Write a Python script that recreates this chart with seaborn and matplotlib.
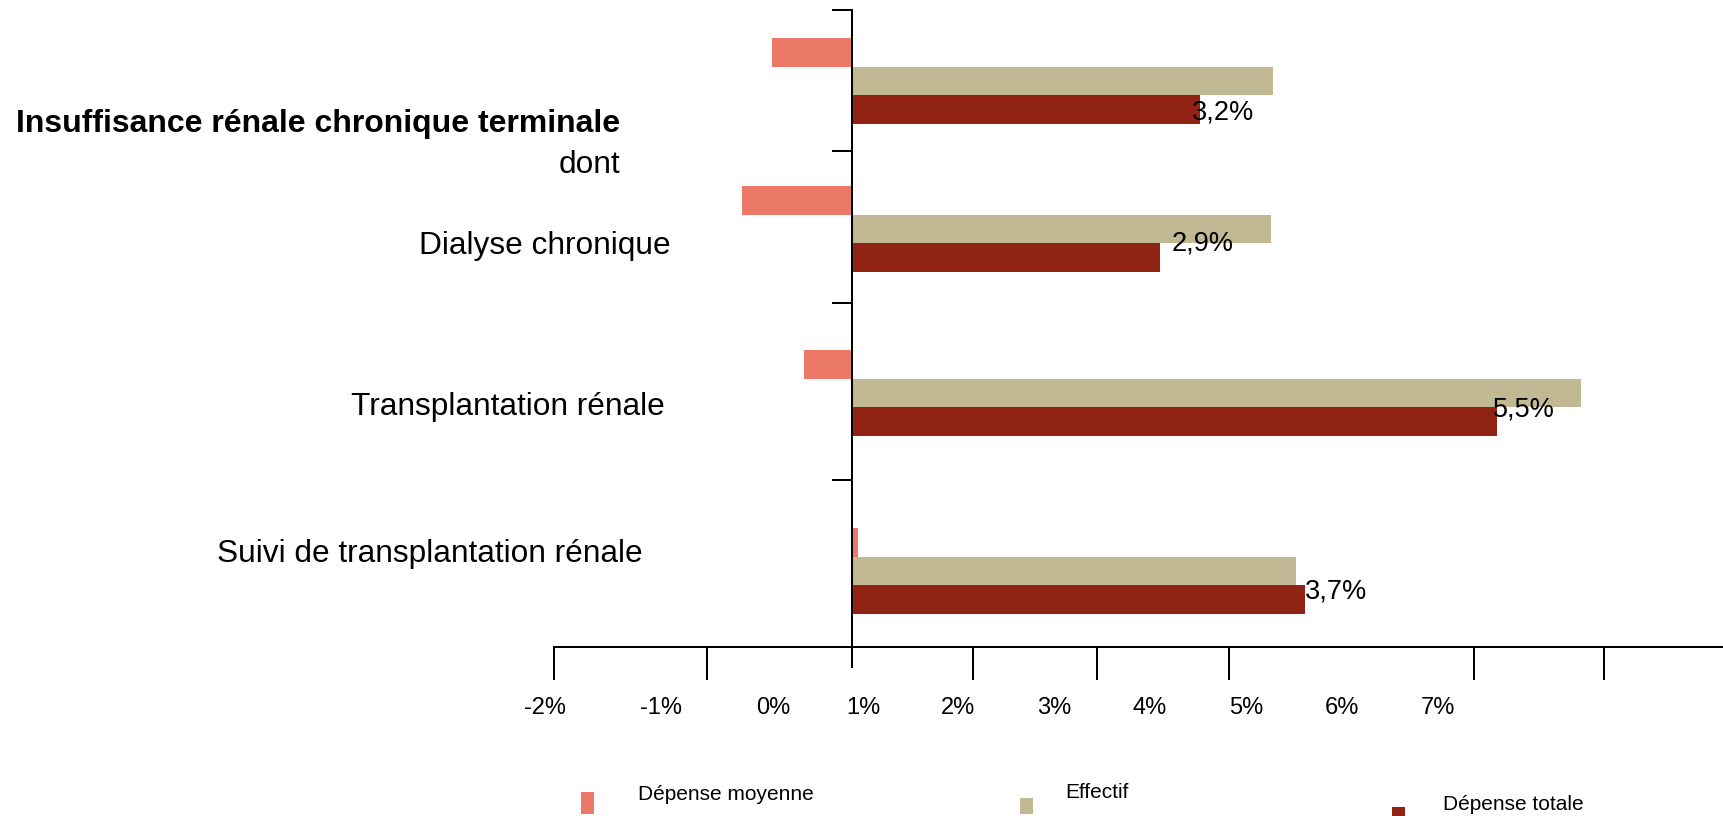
import matplotlib
matplotlib.use("Agg")
import matplotlib.pyplot as plt
import seaborn as sns
import pandas as pd
from matplotlib.patches import Rectangle

# ---------------- data ----------------
categories = [
    "Insuffisance rénale chronique terminale",
    "Dialyse chronique",
    "Transplantation rénale",
    "Suivi de transplantation rénale",
]
series = ["Dépense moyenne", "Effectif", "Dépense totale"]
depense_moyenne = [-0.73, -1.00, -0.44, 0.05]
effectif = [3.83, 3.81, 6.63, 4.04]
depense_totale = [3.16, 2.80, 5.86, 4.12]
value_labels = ["3,2%", "2,9%", "5,5%", "3,7%"]
tick_labels = ["-2%", "-1%", "0%", "1%", "2%", "3%", "4%", "5%", "6%", "7%"]

# ---------------- layout (pixels of the 1723x816 canvas) ----------------
W, H, DPI = 1723, 816, 100
ZERO_PX, PX_PER_UNIT = 852, 110.0
group_pos = [81, 229, 393, 571]              # vertical centre of each group (px)
ytick_pos = [10, 151, 303, 480]
tick_mark_px = [554, 707, 973, 1097, 1229, 1342, 1474, 1604]
tick_label_px = [545, 661, 773, 863, 958, 1054, 1150, 1246, 1342, 1438]
label_dx_px = [-8, 12, -4, 0]                # value-label offsets from bar end
label_dy_px = [3, -14, -12, -8]              # value-label offsets from bar centre
colors = ["#EC7867", "#C1B894", "#912314"]


def px_to_x(px):
    return (px - ZERO_PX) / PX_PER_UNIT


def fx(px):
    return px / W


def fy(py):
    return 1 - py / H


sns.set_theme(style="white")
plt.rcParams["font.family"] = ["Liberation Sans", "DejaVu Sans"]

fig = plt.figure(figsize=(W / DPI, H / DPI), dpi=DPI)
ax_l, ax_r, ax_t, ax_b = 500, 1723, 10, 667
ax = fig.add_axes([ax_l / W, 1 - ax_b / H, (ax_r - ax_l) / W, (ax_b - ax_t) / H])

df = pd.DataFrame({
    "pos": group_pos * 3,
    "serie": [s for s in series for _ in categories],
    "val": depense_moyenne + effectif + depense_totale,
})

sns.barplot(data=df, x="val", y="pos", hue="serie", hue_order=series,
            palette=colors, orient="h", native_scale=True, width=0.585,
            dodge=True, saturation=1, linewidth=0, errorbar=None,
            legend=False, ax=ax)

ax.set_xlim(px_to_x(ax_l), px_to_x(ax_r))
ax.set_ylim(ax_b, ax_t)
ax.set_xlabel("")
ax.set_ylabel("")

for s in ["top", "right"]:
    ax.spines[s].set_visible(False)
ax.spines["left"].set_position(("data", 0))
ax.spines["bottom"].set_position(("data", 647))
ax.spines["bottom"].set_bounds(px_to_x(554), px_to_x(ax_r))
for s in ["left", "bottom"]:
    ax.spines[s].set_linewidth(1.44)
    ax.spines[s].set_color("black")

ax.set_xticks([px_to_x(p) for p in tick_label_px], labels=tick_labels)
ax.set_xticks([px_to_x(p) for p in tick_mark_px], minor=True)
ax.tick_params(axis="x", which="major", bottom=True, length=0, pad=36,
               labelsize=17, labelcolor="black")
ax.tick_params(axis="x", which="minor", bottom=True, length=23.8, width=1.44,
               direction="out", color="black")
ax.set_yticks(ytick_pos, labels=[""] * len(ytick_pos))
ax.tick_params(axis="y", which="major", left=True, length=14.4, width=1.44,
               direction="out", color="black")
ax.grid(False)

# value labels on "Dépense totale" bars
red_bars = ax.containers[2]
for bar, lab, dx, dy in zip(red_bars, value_labels, label_dx_px, label_dy_px):
    ax.text(bar.get_x() + bar.get_width() + dx / PX_PER_UNIT,
            bar.get_y() + bar.get_height() / 2 + dy,
            lab, ha="left", va="center", fontsize=19.5, color="black")

# category labels
fig.text(fx(620), fy(124), categories[0], ha="right", va="center",
         fontsize=23.0, fontweight="bold", color="black")
fig.text(fx(620), fy(165), "dont", ha="right", va="center", fontsize=22.8, color="black")
fig.text(fx(671), fy(246), categories[1], ha="right", va="center", fontsize=22.8, color="black")
fig.text(fx(665), fy(407), categories[2], ha="right", va="center", fontsize=22.8, color="black")
fig.text(fx(643), fy(554), categories[3], ha="right", va="center", fontsize=22.8, color="black")

# legend (markers + labels)
legend_items = [
    (581, 792, 814, 638, 794),
    (1020, 798, 814, 1065, 793),
    (1392, 807, 820, 1443, 805),
]
for (mx, my0, my1, tx, ty), name, c in zip(legend_items, series, colors):
    fig.patches.append(Rectangle((fx(mx), fy(my1)), 13 / W, (my1 - my0) / H,
                                 transform=fig.transFigure, facecolor=c,
                                 edgecolor="none"))
    fig.text(fx(tx), fy(ty), name, ha="left", va="center", fontsize=15, color="black")

fig.savefig("out.png", dpi=DPI, facecolor="white")
